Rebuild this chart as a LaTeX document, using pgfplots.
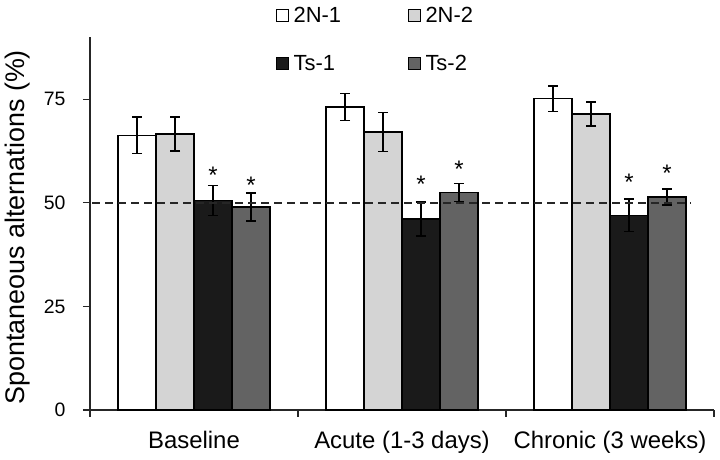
\documentclass[border=0pt]{standalone}
\usepackage{pgfplots}
\pgfplotsset{compat=1.18}
\usepackage{fontspec}
\setmainfont{Liberation Sans}
\definecolor{cA}{HTML}{FFFFFF}
\definecolor{cB}{HTML}{D4D4D4}
\definecolor{cC}{HTML}{1A1A1A}
\definecolor{cD}{HTML}{636363}
\definecolor{axc}{HTML}{262626}
\begin{document}
\begin{tikzpicture}
\pgfplotsset{
  mybar/.style={ybar, bar width=0.1827, bar shift=0pt, draw=black, line width=1.3bp,
    fill=#1,
    error bars/.cd, y dir=both, y explicit,
    error bar style={line width=1.4bp, black},
    error mark options={rotate=90, line width=1.4bp, black, mark size=5bp},
    /pgfplots/.cd,
    legend image code/.code={\draw[draw=black, line width=0.9bp, fill=#1] (0bp,-5.75bp) rectangle (11.5bp,5.75bp);}},
}
\begin{axis}[
  name=ax,
  scale only axis, width=624bp, height=373bp,
  xmin=-0.5, xmax=2.5, ymin=0, ymax=90,
  clip=false,
  axis lines*=left,
  axis line style={-, line width=1.3bp, axc},
  tick style={line width=1.3bp, axc},
  tick align=outside,
  major tick length=7bp,
  ytick={0,25,50,75},
  xtick={-0.5,0.5,1.5,2.5},
  xticklabels={},
  extra x ticks={0,1,2},
  extra x tick labels={Baseline, Acute (1-3 days), Chronic (3 weeks)},
  extra x tick style={major tick length=0pt, xticklabel style={font=\fontsize{24}{28}\selectfont, yshift=-18bp}},
  /pgf/number format/assume math mode=true,
  yticklabel style={font=\fontsize{19.5}{23}\selectfont, xshift=-14bp},
  ylabel={Spontaneous alternations (\%)},
  every axis y label/.style={at={(axis description cs:-0.1154,0.49)}, rotate=90, anchor=center, font=\fontsize{27}{31}\selectfont},
  legend columns=2,
  legend style={draw=none, fill=none, at={(axis description cs:0.2981,1.0804)}, anchor=north west,
    inner sep=0pt, nodes={inner sep=0pt},
    font=\fontsize{22}{26}\selectfont, row sep=31bp,
    /tikz/every odd column/.append style={column sep=5bp},
    /tikz/every even column/.append style={column sep=67bp}},
  legend cell align=left,
]
\addplot[mybar=cA] coordinates {(-0.274,66.3) +- (0,4.4) (0.726,73.1) +- (0,3.3) (1.726,75.1) +- (0,3.1)};
\addlegendentry{2N-1}
\addplot[mybar=cB] coordinates {(-0.0913,66.6) +- (0,4.1) (0.9087,67.1) +- (0,4.7) (1.9087,71.4) +- (0,2.9)};
\addlegendentry{2N-2}
\addplot[mybar=cC] coordinates {(0.0913,50.6) +- (0,3.6) (1.0913,46.1) +- (0,4.1) (2.0913,47.0) +- (0,3.9)};
\addlegendentry{Ts-1}
\addplot[mybar=cD] coordinates {(0.274,49.0) +- (0,3.4) (1.274,52.5) +- (0,2.2) (2.274,51.4) +- (0,1.9)};
\addlegendentry{Ts-2}
\addplot[forget plot, line width=1.6bp, axc, dash pattern=on 8bp off 5bp] coordinates {(-0.49,50) (2.39,50)};
\addplot[forget plot, only marks, mark=none, point meta=explicit symbolic,
  nodes near coords, every node near coord/.style={anchor=base, font=\fontsize{24}{28}\selectfont, inner sep=0pt}]
  coordinates {(0.0913,54.6)[*] (0.274,52.3)[*] (1.0913,52.4)[*] (1.274,56.1)[*] (2.0913,52.9)[*] (2.274,55.1)[*]};
\end{axis}
\path ([shift={(-90bp,-50bp)}]ax.south west) rectangle ([shift={(6bp,37bp)}]ax.north east);
\end{tikzpicture}
\end{document}
